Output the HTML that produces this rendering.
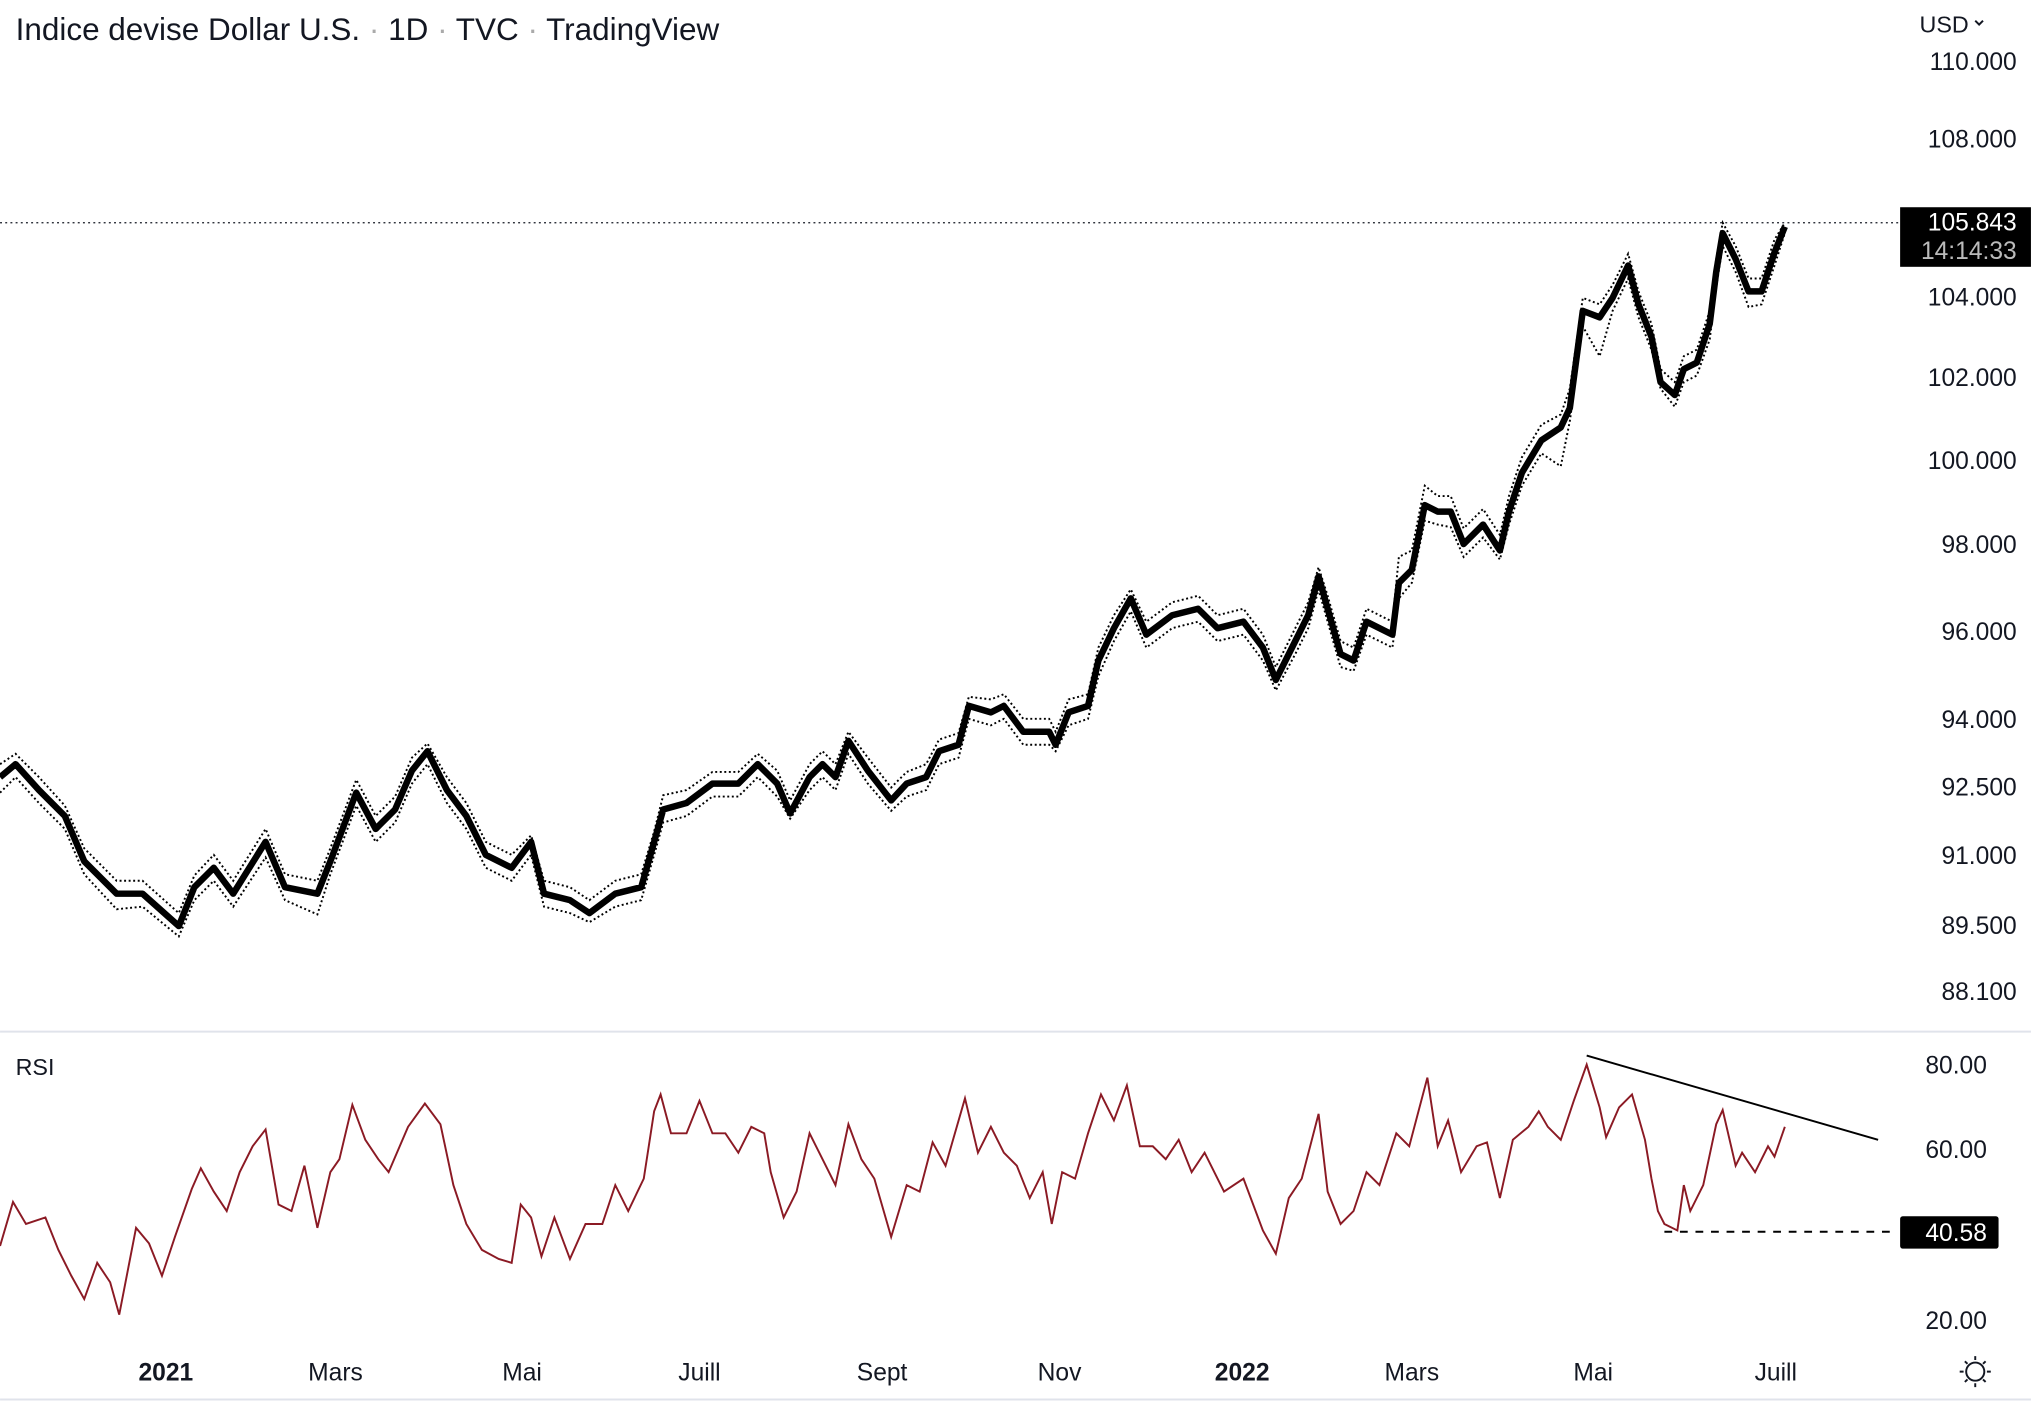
<!DOCTYPE html>
<html><head><meta charset="utf-8"><style>
html,body{margin:0;padding:0;background:#fff;}
svg{display:block;font-family:"Liberation Sans",sans-serif;}
</style></head><body>
<svg width="2031" height="1404" viewBox="0 0 1568 1084" xmlns="http://www.w3.org/2000/svg">
<rect width="1568" height="1084" fill="#fff"/>
<text x="12" y="31" font-size="24.3" fill="#131722">Indice devise Dollar U.S. <tspan fill="#aaa">·</tspan> 1D <tspan fill="#aaa">·</tspan> TVC <tspan fill="#aaa">·</tspan> TradingView</text>
<text x="1482" y="25" font-size="18" fill="#131722">USD</text>
<path d="M1525 16 l3 3 l3 -3" stroke="#131722" stroke-width="1.5" fill="none"/>
<g font-size="19" fill="#131722" text-anchor="end">
<text x="1557" y="54">110.000</text><text x="1557" y="114">108.000</text>
<text x="1557" y="236">104.000</text><text x="1557" y="298">102.000</text>
<text x="1557" y="362">100.000</text><text x="1557" y="427">98.000</text>
<text x="1557" y="494">96.000</text><text x="1557" y="562">94.000</text>
<text x="1557" y="614">92.500</text><text x="1557" y="667">91.000</text>
<text x="1557" y="721">89.500</text><text x="1557" y="772">88.100</text>
<text x="1534" y="829">80.00</text><text x="1534" y="894">60.00</text>
<text x="1534" y="1026">20.00</text>
</g>
<line x1="0" y1="172" x2="1467" y2="172" stroke="#131722" stroke-width="1" stroke-dasharray="1.5,2.5"/>
<rect x="1467" y="160" width="101" height="46" fill="#000"/>
<text x="1557" y="178" font-size="19" fill="#fff" text-anchor="end">105.843</text>
<text x="1557" y="200" font-size="19" fill="#bbb" text-anchor="end">14:14:33</text>
<line x1="0" y1="796.5" x2="1568" y2="796.5" stroke="#e0e3eb" stroke-width="1.5"/>
<line x1="0" y1="1080.5" x2="1568" y2="1080.5" stroke="#e0e3eb" stroke-width="1.5"/>
<text x="12" y="830" font-size="18" fill="#131722">RSI</text>

<polyline fill="none" stroke="#000" stroke-width="5" stroke-linejoin="round" points="0,600 12,590 30,610 50,630 65,665 90,690 110,690 138,715 150,685 165,670 180,690 205,650 220,685 245,690 255,665 275,612 290,640 305,625 318,595 330,580 345,610 360,630 375,660 395,670 410,650 420,690 440,695 455,705 475,690 495,685 505,650 512,625 530,620 550,605 570,605 585,590 600,605 610,628 625,600 635,590 645,600 655,572 670,595 688,618 700,605 715,600 725,580 740,575 748,545 765,550 775,545 790,565 810,565 815,575 825,550 840,545 848,510 860,485 873,462 885,490 905,475 925,470 940,485 960,480 975,500 985,525 1000,495 1010,475 1018,445 1025,470 1035,505 1045,510 1055,480 1075,490 1080,450 1090,440 1100,390 1110,395 1120,395 1130,420 1145,405 1158,425 1165,395 1175,365 1190,340 1205,330 1212,315 1222,240 1235,245 1245,230 1257,205 1265,235 1275,260 1282,295 1293,305 1300,285 1310,280 1320,250 1325,210 1330,180 1340,200 1350,225 1360,225 1370,195 1378,175"/>
<polyline fill="none" stroke="#000" stroke-width="1.5" stroke-dasharray="1.5,2" points="0,590 12,582 30,600 50,622 65,655 90,680 110,680 138,705 150,676 165,660 180,680 205,640 220,675 245,680 255,655 275,602 290,630 305,615 318,585 330,574 345,600 360,620 375,650 395,660 410,645 420,680 440,685 455,695 475,680 495,675 505,642 512,614 530,610 550,596 570,596 585,582 600,595 610,618 625,590 635,580 645,590 655,565 670,585 688,608 700,596 715,590 725,571 740,566 748,538 765,540 775,536 790,555 810,555 815,565 825,540 840,536 848,500 860,475 873,455 885,480 905,465 925,460 940,475 960,470 975,490 985,515 1000,485 1010,465 1018,438 1025,460 1035,495 1045,500 1055,470 1075,480 1080,430 1090,425 1100,375 1110,383 1120,383 1130,408 1145,393 1158,413 1165,383 1175,353 1190,328 1205,320 1212,300 1222,230 1235,235 1245,220 1257,196 1265,225 1275,250 1282,285 1293,295 1300,275 1310,270 1320,240 1325,200 1330,172 1340,190 1350,215 1360,215 1370,185 1378,172"/>
<polyline fill="none" stroke="#000" stroke-width="1.5" stroke-dasharray="1.5,2" points="0,612 12,600 30,620 50,640 65,675 90,702 110,700 138,723 150,695 165,680 180,700 205,662 220,695 245,706 255,675 275,622 290,650 305,635 318,605 330,590 345,620 360,640 375,670 395,680 410,660 420,700 440,705 455,712 475,700 495,695 505,660 512,635 530,630 550,615 570,615 585,600 600,615 610,632 625,610 635,600 645,610 655,582 670,605 688,626 700,615 715,610 725,590 740,585 748,555 765,560 775,555 790,575 810,575 815,580 825,560 840,555 848,522 860,495 873,472 885,500 905,485 925,480 940,495 960,490 975,510 985,533 1000,505 1010,485 1018,455 1025,480 1035,515 1045,518 1055,490 1075,500 1080,462 1090,450 1100,402 1110,405 1120,407 1130,430 1145,415 1158,432 1165,405 1175,375 1190,350 1205,360 1212,325 1222,252 1235,275 1245,240 1257,215 1265,245 1275,270 1282,300 1293,314 1300,295 1310,290 1320,262 1325,222 1330,190 1340,210 1350,237 1360,235 1370,205 1378,180"/>

<polyline fill="none" stroke="#8b1a24" stroke-width="1.5" points="0,962 10,928 20,945 35,940 45,965 55,985 65,1003 75,975 85,990 92,1015 105,948 115,960 125,985 135,955 148,918 155,902 165,920 175,935 185,905 195,885 205,872 215,930 225,935 235,900 245,948 255,905 262,895 272,853 282,880 292,895 300,905 315,870 328,852 340,868 350,915 360,945 372,965 385,972 395,975 402,930 410,940 418,970 428,940 440,972 452,945 465,945 475,915 485,935 497,910 505,858 510,845 518,875 530,875 540,850 550,875 560,875 570,890 580,870 590,875 595,905 605,940 615,920 625,875 635,895 645,915 655,868 665,895 675,910 688,955 700,915 710,920 720,882 730,900 745,848 755,890 765,870 775,890 785,900 795,925 805,905 812,945 820,905 830,910 840,875 850,845 860,865 870,838 880,885 890,885 900,895 910,880 920,905 930,890 945,920 960,910 975,950 985,968 995,925 1005,910 1018,860 1025,920 1035,945 1045,935 1055,905 1065,915 1078,875 1088,885 1102,832 1110,885 1118,865 1128,905 1140,885 1148,882 1158,925 1168,880 1180,870 1188,858 1195,870 1205,880 1215,850 1225,822 1235,855 1240,878 1250,855 1260,845 1270,880 1275,910 1280,935 1285,945 1295,950 1300,915 1305,935 1315,915 1325,868 1330,857 1340,900 1345,890 1355,905 1365,885 1370,893 1378,870"/>
<line x1="1225" y1="815" x2="1450" y2="880" stroke="#000" stroke-width="1.5"/>
<line x1="1285" y1="951" x2="1465" y2="951" stroke="#000" stroke-width="1.5" stroke-dasharray="6,6"/>
<rect x="1467" y="939" width="76" height="25" rx="2" fill="#000"/>
<text x="1534" y="958" font-size="19" fill="#fff" text-anchor="end">40.58</text>
<g font-size="19" fill="#131722" text-anchor="middle">
<text x="128" y="1066" font-weight="bold">2021</text><text x="259" y="1066">Mars</text>
<text x="403" y="1066">Mai</text><text x="540" y="1066">Juill</text>
<text x="681" y="1066">Sept</text><text x="818" y="1066">Nov</text>
<text x="959" y="1066" font-weight="bold">2022</text><text x="1090" y="1066">Mars</text>
<text x="1230" y="1066">Mai</text><text x="1371" y="1066">Juill</text>
</g>
<g stroke="#131722" stroke-width="1.5" fill="none">
<circle cx="1525" cy="1059" r="7"/>
<path d="M1525 1047v3M1525 1068v3M1513 1059h3M1534 1059h3M1517 1051l2 2M1531 1065l2 2M1517 1067l2-2M1531 1053l2-2"/>
</g>
</svg>
</body></html>
